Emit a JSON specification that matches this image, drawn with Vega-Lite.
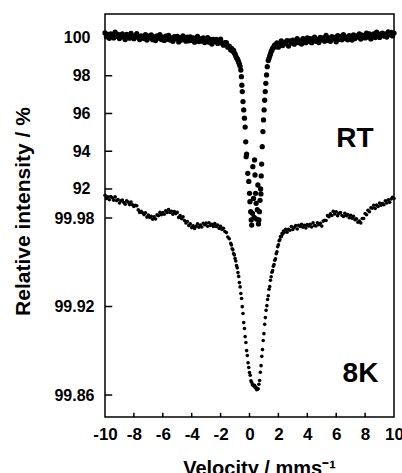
{
"$schema": "https://vega.github.io/schema/vega-lite/v6.json",
"width": 289,
"height": 403,
"autosize": "none",
"padding": {"left": 105, "top": 14, "right": 8, "bottom": 56},
"background": "white",
"config": {
  "view": {"stroke": "black", "strokeWidth": 1.5},
  "font": "Liberation Sans",
  "axis": {"labelFont": "Liberation Sans", "labelFontWeight": "bold", "labelFontSize": 16, "labelColor": "black", "titleFont": "Liberation Sans", "titleFontWeight": "bold", "titleFontSize": 20, "titleColor": "black", "ticks": false, "grid": false, "domain": false, "labelFlush": false, "labelOverlap": false, "labelBound": false, "zindex": 1}
},
"datasets": {
"rt": [
{"v":-10.0,"i":100.27},{"v":-9.9,"i":100.06},{"v":-9.8,"i":100.19},{"v":-9.7,"i":99.98},{"v":-9.6,"i":100.22},{"v":-9.5,"i":100.16},{"v":-9.4,"i":100.00},{"v":-9.3,"i":100.31},{"v":-9.2,"i":100.09},{"v":-9.1,"i":100.19},
{"v":-9.0,"i":99.97},{"v":-8.9,"i":100.15},{"v":-8.8,"i":100.22},{"v":-8.7,"i":100.04},{"v":-8.6,"i":99.92},{"v":-8.5,"i":100.19},{"v":-8.4,"i":100.14},{"v":-8.3,"i":99.99},{"v":-8.2,"i":100.24},{"v":-8.1,"i":100.06},
{"v":-8.0,"i":99.96},{"v":-7.9,"i":100.14},{"v":-7.8,"i":100.23},{"v":-7.7,"i":100.02},{"v":-7.6,"i":99.92},{"v":-7.5,"i":100.11},{"v":-7.4,"i":100.05},{"v":-7.3,"i":99.97},{"v":-7.2,"i":100.17},{"v":-7.1,"i":99.89},
{"v":-7.0,"i":100.10},{"v":-6.9,"i":100.00},{"v":-6.8,"i":100.16},{"v":-6.7,"i":99.91},{"v":-6.6,"i":100.06},{"v":-6.5,"i":99.86},{"v":-6.4,"i":100.11},{"v":-6.3,"i":99.99},{"v":-6.2,"i":100.18},{"v":-6.1,"i":99.92},
{"v":-6.0,"i":100.03},{"v":-5.9,"i":99.87},{"v":-5.8,"i":100.10},{"v":-5.7,"i":99.93},{"v":-5.6,"i":100.14},{"v":-5.5,"i":99.89},{"v":-5.4,"i":100.00},{"v":-5.3,"i":99.82},{"v":-5.2,"i":100.07},{"v":-5.1,"i":99.96},
{"v":-5.0,"i":100.09},{"v":-4.9,"i":99.79},{"v":-4.8,"i":100.02},{"v":-4.7,"i":99.89},{"v":-4.6,"i":100.11},{"v":-4.5,"i":99.92},{"v":-4.4,"i":99.83},{"v":-4.3,"i":100.04},{"v":-4.2,"i":99.85},{"v":-4.1,"i":100.06},
{"v":-4.0,"i":99.88},{"v":-3.9,"i":100.01},{"v":-3.8,"i":99.78},{"v":-3.7,"i":99.93},{"v":-3.6,"i":100.09},{"v":-3.5,"i":99.81},{"v":-3.4,"i":99.95},{"v":-3.3,"i":99.84},{"v":-3.2,"i":100.01},{"v":-3.1,"i":99.76},
{"v":-3.0,"i":99.91},{"v":-2.9,"i":100.02},{"v":-2.8,"i":99.78},{"v":-2.7,"i":99.93},{"v":-2.6,"i":99.68},{"v":-2.5,"i":99.93},{"v":-2.4,"i":99.81},{"v":-2.3,"i":99.93},{"v":-2.2,"i":99.71},{"v":-2.1,"i":99.85},
{"v":-2.0,"i":99.94},{"v":-1.9,"i":99.72},{"v":-1.8,"i":99.62},{"v":-1.7,"i":99.75},{"v":-1.6,"i":99.75},{"v":-1.5,"i":99.51},{"v":-1.4,"i":99.57},{"v":-1.3,"i":99.36},
{"v":-1.25,"i":99.45},{"v":-1.2,"i":99.40},{"v":-1.15,"i":99.30},{"v":-1.1,"i":99.34},{"v":-1.05,"i":99.20},{"v":-1.0,"i":99.15},{"v":-0.95,"i":99.05},{"v":-0.9,"i":98.95},{"v":-0.85,"i":98.90},{"v":-0.8,"i":98.82},
{"v":-0.75,"i":98.72},{"v":-0.7,"i":98.62},{"v":-0.65,"i":98.50},{"v":-0.6,"i":98.30},{"v":-0.56,"i":97.95},{"v":-0.53,"i":97.50},{"v":-0.5,"i":97.16},{"v":-0.45,"i":96.63},{"v":-0.4,"i":96.19},{"v":-0.35,"i":95.75},
{"v":-0.3,"i":95.28},{"v":-0.26,"i":94.50},{"v":-0.23,"i":93.71},{"v":-0.2,"i":93.85},{"v":-0.12,"i":92.83},{"v":-0.05,"i":92.40},{"v":0.0,"i":91.77},{"v":0.03,"i":91.33},{"v":0.08,"i":90.80},{"v":0.12,"i":90.36},
{"v":0.15,"i":90.09},{"v":0.2,"i":90.71},{"v":0.23,"i":93.18},{"v":0.28,"i":91.50},{"v":0.32,"i":90.50},{"v":0.35,"i":93.54},{"v":0.38,"i":92.74},{"v":0.42,"i":91.77},{"v":0.46,"i":91.24},{"v":0.5,"i":90.40},
{"v":0.54,"i":90.90},{"v":0.58,"i":92.21},{"v":0.62,"i":90.15},{"v":0.65,"i":90.36},{"v":0.69,"i":90.80},{"v":0.73,"i":91.40},{"v":0.77,"i":92.00},{"v":0.79,"i":91.74},{"v":0.81,"i":92.69},{"v":0.84,"i":93.32},
{"v":0.88,"i":94.24},{"v":0.93,"i":95.04},{"v":0.97,"i":95.66},{"v":1.01,"i":96.19},{"v":1.05,"i":96.70},{"v":1.09,"i":97.16},{"v":1.13,"i":97.60},{"v":1.18,"i":98.04},{"v":1.23,"i":98.48},{"v":1.3,"i":98.80},
{"v":1.35,"i":98.92},{"v":1.4,"i":99.05},{"v":1.45,"i":99.15},{"v":1.5,"i":99.27},{"v":1.55,"i":99.35},{"v":1.6,"i":99.45},{"v":1.65,"i":99.50},{"v":1.7,"i":99.55},{"v":1.75,"i":99.63},
{"v":1.8,"i":99.53},{"v":1.9,"i":99.74},{"v":2.0,"i":99.51},{"v":2.1,"i":99.69},{"v":2.2,"i":99.84},{"v":2.3,"i":99.60},{"v":2.4,"i":99.76},{"v":2.5,"i":99.70},{"v":2.6,"i":99.86},{"v":2.7,"i":99.57},
{"v":2.8,"i":99.84},{"v":2.9,"i":99.73},{"v":3.0,"i":99.88},{"v":3.1,"i":99.67},{"v":3.2,"i":99.82},{"v":3.3,"i":99.97},{"v":3.4,"i":99.75},{"v":3.5,"i":99.86},{"v":3.6,"i":99.68},{"v":3.7,"i":99.96},
{"v":3.8,"i":99.83},{"v":3.9,"i":99.75},{"v":4.0,"i":100.00},{"v":4.1,"i":99.82},{"v":4.2,"i":99.96},{"v":4.3,"i":99.75},{"v":4.4,"i":99.95},{"v":4.5,"i":100.05},{"v":4.6,"i":99.82},{"v":4.7,"i":99.92},
{"v":4.8,"i":99.76},{"v":4.9,"i":100.03},{"v":5.0,"i":99.90},{"v":5.1,"i":100.01},{"v":5.2,"i":99.83},{"v":5.3,"i":100.13},{"v":5.4,"i":99.88},{"v":5.5,"i":99.99},{"v":5.6,"i":99.82},{"v":5.7,"i":100.07},
{"v":5.8,"i":99.95},{"v":5.9,"i":100.03},{"v":6.0,"i":99.80},{"v":6.1,"i":100.12},{"v":6.2,"i":99.93},{"v":6.3,"i":100.08},{"v":6.4,"i":99.90},{"v":6.5,"i":100.17},{"v":6.6,"i":99.97},{"v":6.7,"i":100.04},
{"v":6.8,"i":99.90},{"v":6.9,"i":100.12},{"v":7.0,"i":100.07},{"v":7.1,"i":99.89},{"v":7.2,"i":100.16},{"v":7.3,"i":99.97},{"v":7.4,"i":100.11},{"v":7.5,"i":100.05},{"v":7.6,"i":100.21},{"v":7.7,"i":99.94},
{"v":7.8,"i":100.15},{"v":7.9,"i":100.08},{"v":8.0,"i":100.00},{"v":8.1,"i":100.25},{"v":8.2,"i":100.05},{"v":8.3,"i":100.22},{"v":8.4,"i":99.95},{"v":8.5,"i":100.15},{"v":8.6,"i":100.22},{"v":8.7,"i":100.02},
{"v":8.8,"i":100.31},{"v":8.9,"i":100.11},{"v":9.0,"i":100.03},{"v":9.1,"i":100.22},{"v":9.2,"i":100.26},{"v":9.3,"i":100.10},{"v":9.4,"i":100.20},{"v":9.5,"i":100.05},{"v":9.6,"i":100.32},{"v":9.7,"i":100.18},
{"v":9.8,"i":100.29},{"v":9.9,"i":100.11},{"v":10.0,"i":100.26}
],
"k8": [
{"v":-10.0,"i":99.9954},{"v":-9.9,"i":99.9933},{"v":-9.8,"i":99.9943},{"v":-9.7,"i":99.9924},{"v":-9.6,"i":99.9946},{"v":-9.5,"i":99.9937},{"v":-9.4,"i":99.9921},{"v":-9.3,"i":99.9943},{"v":-9.2,"i":99.9919},{"v":-9.1,"i":99.9925},
{"v":-9.0,"i":99.9902},{"v":-8.9,"i":99.9916},{"v":-8.8,"i":99.9922},{"v":-8.7,"i":99.9905},{"v":-8.6,"i":99.9894},{"v":-8.5,"i":99.9916},{"v":-8.4,"i":99.9908},{"v":-8.3,"i":99.9891},{"v":-8.2,"i":99.9909},{"v":-8.1,"i":99.9890},
{"v":-8.0,"i":99.9878},{"v":-7.9,"i":99.9886},{"v":-7.8,"i":99.9883},{"v":-7.7,"i":99.9855},{"v":-7.6,"i":99.9838},{"v":-7.5,"i":99.9846},{"v":-7.4,"i":99.9836},{"v":-7.3,"i":99.9823},{"v":-7.2,"i":99.9836},{"v":-7.1,"i":99.9806},
{"v":-7.0,"i":99.9820},{"v":-6.9,"i":99.9804},{"v":-6.8,"i":99.9812},{"v":-6.7,"i":99.9792},{"v":-6.6,"i":99.9809},{"v":-6.5,"i":99.9793},{"v":-6.4,"i":99.9821},{"v":-6.3,"i":99.9816},{"v":-6.2,"i":99.9838},{"v":-6.1,"i":99.9822},
{"v":-6.0,"i":99.9837},{"v":-5.9,"i":99.9825},{"v":-5.8,"i":99.9849},{"v":-5.7,"i":99.9837},{"v":-5.6,"i":99.9857},{"v":-5.5,"i":99.9838},{"v":-5.4,"i":99.9845},{"v":-5.3,"i":99.9825},{"v":-5.2,"i":99.9843},{"v":-5.1,"i":99.9830},
{"v":-5.0,"i":99.9838},{"v":-4.9,"i":99.9804},{"v":-4.8,"i":99.9816},{"v":-4.7,"i":99.9796},{"v":-4.6,"i":99.9808},{"v":-4.5,"i":99.9783},{"v":-4.4,"i":99.9766},{"v":-4.3,"i":99.9776},{"v":-4.2,"i":99.9750},{"v":-4.1,"i":99.9760},
{"v":-4.0,"i":99.9735},{"v":-3.9,"i":99.9747},{"v":-3.8,"i":99.9729},{"v":-3.7,"i":99.9744},{"v":-3.6,"i":99.9760},{"v":-3.5,"i":99.9737},{"v":-3.4,"i":99.9753},{"v":-3.3,"i":99.9739},{"v":-3.2,"i":99.9764},{"v":-3.1,"i":99.9754},
{"v":-3.0,"i":99.9765},{"v":-2.9,"i":99.9744},{"v":-2.8,"i":99.9768},{"v":-2.7,"i":99.9749},{"v":-2.6,"i":99.9757},{"v":-2.5,"i":99.9743},{"v":-2.4,"i":99.9763},{"v":-2.3,"i":99.9742},{"v":-2.2,"i":99.9753},{"v":-2.1,"i":99.9730},
{"v":-2.0,"i":99.9743},{"v":-1.9,"i":99.9722},{"v":-1.8,"i":99.9730},{"v":-1.7,"i":99.9709},{"v":-1.6,"i":99.9701},{"v":-1.5,"i":99.9671},{"v":-1.4,"i":99.9659},{"v":-1.3,"i":99.9628},
{"v":-1.25,"i":99.9617},{"v":-1.2,"i":99.9592},{"v":-1.15,"i":99.9584},{"v":-1.1,"i":99.9559},{"v":-1.05,"i":99.9550},{"v":-1.0,"i":99.9525},{"v":-0.95,"i":99.9509},{"v":-0.9,"i":99.9478},{"v":-0.85,"i":99.9462},{"v":-0.8,"i":99.9430},
{"v":-0.75,"i":99.9404},{"v":-0.7,"i":99.9362},{"v":-0.65,"i":99.9333},{"v":-0.6,"i":99.9288},{"v":-0.55,"i":99.9254},{"v":-0.5,"i":99.9199},{"v":-0.45,"i":99.9153},{"v":-0.4,"i":99.9091},{"v":-0.35,"i":99.9051},{"v":-0.3,"i":99.8996},
{"v":-0.25,"i":99.8956},{"v":-0.2,"i":99.8901},{"v":-0.15,"i":99.8868},{"v":-0.1,"i":99.8819},{"v":-0.05,"i":99.8787},{"v":0.0,"i":99.8752},{"v":0.05,"i":99.8734},{"v":0.1,"i":99.8697},{"v":0.15,"i":99.8686},{"v":0.2,"i":99.8670},
{"v":0.25,"i":99.8667},{"v":0.3,"i":99.8662},{"v":0.35,"i":99.8666},{"v":0.4,"i":99.8649},{"v":0.45,"i":99.8652},{"v":0.5,"i":99.8636},{"v":0.55,"i":99.8639},{"v":0.6,"i":99.8642},{"v":0.65,"i":99.8673},{"v":0.7,"i":99.8698},
{"v":0.75,"i":99.8754},{"v":0.8,"i":99.8799},{"v":0.85,"i":99.8862},{"v":0.9,"i":99.8908},{"v":0.95,"i":99.8970},{"v":1.0,"i":99.9016},{"v":1.05,"i":99.9079},{"v":1.1,"i":99.9125},{"v":1.15,"i":99.9174},{"v":1.2,"i":99.9206},
{"v":1.25,"i":99.9248},{"v":1.3,"i":99.9273},{"v":1.35,"i":99.9317},{"v":1.4,"i":99.9335},{"v":1.45,"i":99.9378},{"v":1.5,"i":99.9402},{"v":1.55,"i":99.9432},{"v":1.6,"i":99.9443},{"v":1.65,"i":99.9473},{"v":1.7,"i":99.9484},
{"v":1.75,"i":99.9514},{"v":1.8,"i":99.9524},{"v":1.85,"i":99.9558},{"v":1.9,"i":99.9571},{"v":1.95,"i":99.9605},{"v":2.0,"i":99.9619},{"v":2.05,"i":99.9646},{"v":2.1,"i":99.9652},{"v":2.15,"i":99.9674},{"v":2.2,"i":99.9673},
{"v":2.25,"i":99.9695},{"v":2.3,"i":99.9691},{"v":2.35,"i":99.9712},{"v":2.4,"i":99.9704},
{"v":2.5,"i":99.9723},{"v":2.6,"i":99.9704},{"v":2.7,"i":99.9723},{"v":2.8,"i":99.9717},{"v":2.9,"i":99.9742},{"v":3.0,"i":99.9722},{"v":3.1,"i":99.9737},{"v":3.2,"i":99.9749},{"v":3.3,"i":99.9725},{"v":3.4,"i":99.9750},
{"v":3.5,"i":99.9743},{"v":3.6,"i":99.9758},{"v":3.7,"i":99.9737},{"v":3.8,"i":99.9751},{"v":3.9,"i":99.9733},{"v":4.0,"i":99.9756},{"v":4.1,"i":99.9746},{"v":4.2,"i":99.9757},{"v":4.3,"i":99.9739},{"v":4.4,"i":99.9767},
{"v":4.5,"i":99.9749},{"v":4.6,"i":99.9746},{"v":4.7,"i":99.9768},{"v":4.8,"i":99.9755},{"v":4.9,"i":99.9764},{"v":5.0,"i":99.9745},{"v":5.1,"i":99.9779},{"v":5.2,"i":99.9785},{"v":5.3,"i":99.9783},{"v":5.4,"i":99.9816},
{"v":5.5,"i":99.9809},{"v":5.6,"i":99.9828},{"v":5.7,"i":99.9817},{"v":5.8,"i":99.9845},{"v":5.9,"i":99.9827},{"v":6.0,"i":99.9842},{"v":6.1,"i":99.9816},{"v":6.2,"i":99.9832},{"v":6.3,"i":99.9837},{"v":6.4,"i":99.9817},
{"v":6.5,"i":99.9811},{"v":6.6,"i":99.9832},{"v":6.7,"i":99.9816},{"v":6.8,"i":99.9823},{"v":6.9,"i":99.9802},{"v":7.0,"i":99.9819},{"v":7.1,"i":99.9799},{"v":7.2,"i":99.9812},{"v":7.3,"i":99.9789},{"v":7.4,"i":99.9795},
{"v":7.5,"i":99.9771},{"v":7.6,"i":99.9780},{"v":7.7,"i":99.9767},{"v":7.8,"i":99.9797},{"v":7.9,"i":99.9797},{"v":8.0,"i":99.9830},{"v":8.1,"i":99.9822},{"v":8.2,"i":99.9853},{"v":8.3,"i":99.9842},{"v":8.4,"i":99.9869},
{"v":8.5,"i":99.9867},{"v":8.6,"i":99.9886},{"v":8.7,"i":99.9864},{"v":8.8,"i":99.9887},{"v":8.9,"i":99.9878},{"v":9.0,"i":99.9901},{"v":9.1,"i":99.9887},{"v":9.2,"i":99.9898},{"v":9.3,"i":99.9890},{"v":9.4,"i":99.9916},
{"v":9.5,"i":99.9902},{"v":9.6,"i":99.9923},{"v":9.7,"i":99.9906},{"v":9.8,"i":99.9929},{"v":9.9,"i":99.9940},{"v":10.0,"i":99.9932}
]
},
"layer": [
  {
    "layer": [
      {
        "data": {"name": "rt"},
        "mark": {"type": "point", "filled": true, "shape": "circle", "size": 28, "color": "black", "opacity": 1},
        "encoding": {
          "x": {"field": "v", "type": "quantitative", "scale": {"domain": [-10, 10], "nice": false, "zero": false},
                "axis": {"orient": "bottom", "values": [-10, -8, -6, -4, -2, 0, 2, 4, 6, 8, 10], "labelExpr": "'' + datum.value", "labelOverlap": false, "labelFlush": false, "ticks": false, "labelPadding": 9, "labelFontSize": 17, "labelFontWeight": "bold", "zindex": 1,
                         "title": "Velocity / mms⁻¹", "titleX": 154, "titleY": 57, "titleBaseline": "alphabetic", "titleAlign": "center"}},
          "y": {"field": "i", "type": "quantitative", "scale": {"domain": [79.92, 101.27], "nice": false, "zero": false},
                "axis": {"orient": "left", "values": [92, 94, 96, 98, 100], "format": "d", "labelOverlap": false, "ticks": false, "labelPadding": 15, "labelFontSize": 16, "labelFontWeight": "bold", "zindex": 1,
                         "title": "Relative intensity / %", "titleFontSize": 21, "titleX": -76, "titleY": 197, "titleAngle": -90, "titleBaseline": "alphabetic", "titleAlign": "center"}}
        }
      },
      {
        "data": {"values": [{"t": 92}, {"t": 94}, {"t": 96}, {"t": 98}, {"t": 100}]},
        "mark": {"type": "rule", "color": "black", "strokeWidth": 1.5},
        "encoding": {
          "x": {"datum": -10, "type": "quantitative", "axis": null},
          "x2": {"datum": -9.5},
          "y": {"field": "t", "type": "quantitative", "axis": null}
        }
      },
      {
        "data": {"values": [{"u": -8}, {"u": -6}, {"u": -4}, {"u": -2}, {"u": 0}, {"u": 2}, {"u": 4}, {"u": 6}, {"u": 8}]},
        "mark": {"type": "rule", "color": "black", "strokeWidth": 1.5},
        "encoding": {
          "x": {"field": "u", "type": "quantitative", "axis": null},
          "y": {"datum": 79.92, "type": "quantitative", "axis": null},
          "y2": {"datum": 80.14}
        }
      },
      {
        "data": {"values": [{}]},
        "mark": {"type": "text", "text": "RT", "font": "Liberation Sans", "fontWeight": "bold", "fontSize": 28, "align": "center", "baseline": "alphabetic", "color": "black"},
        "encoding": {
          "x": {"datum": 7.3, "type": "quantitative", "axis": null},
          "y": {"datum": 94.23, "type": "quantitative", "axis": null}
        }
      }
    ],
    "resolve": {"axis": {"x": "independent", "y": "independent"}}
  },
  {
    "layer": [
      {
        "data": {"name": "k8"},
        "mark": {"type": "point", "filled": true, "shape": "circle", "size": 13, "color": "black", "opacity": 1},
        "encoding": {
          "x": {"field": "v", "type": "quantitative", "axis": null},
          "y": {"field": "i", "type": "quantitative", "scale": {"domain": [99.8451, 100.1183], "nice": false, "zero": false},
                "axis": {"orient": "left", "values": [99.86, 99.92, 99.98], "format": ".2f", "labelOverlap": false, "ticks": false, "labelPadding": 11, "labelFontSize": 16, "labelFontWeight": "bold", "zindex": 1, "title": null}}
        }
      },
      {
        "data": {"values": [{"t": 99.86}, {"t": 99.92}, {"t": 99.98}]},
        "mark": {"type": "rule", "color": "black", "strokeWidth": 1.5},
        "encoding": {
          "x": {"datum": -10, "type": "quantitative", "axis": null},
          "x2": {"datum": -9.5},
          "y": {"field": "t", "type": "quantitative", "axis": null}
        }
      },
      {
        "data": {"values": [{}]},
        "mark": {"type": "text", "text": "8K", "font": "Liberation Sans", "fontWeight": "bold", "fontSize": 28, "align": "center", "baseline": "alphabetic", "color": "black"},
        "encoding": {
          "x": {"datum": 7.68, "type": "quantitative", "axis": null},
          "y": {"datum": 99.869, "type": "quantitative", "axis": null}
        }
      }
    ],
    "resolve": {"axis": {"x": "independent", "y": "independent"}}
  }
],
"resolve": {"scale": {"y": "independent"}, "axis": {"x": "independent", "y": "independent"}}
}
